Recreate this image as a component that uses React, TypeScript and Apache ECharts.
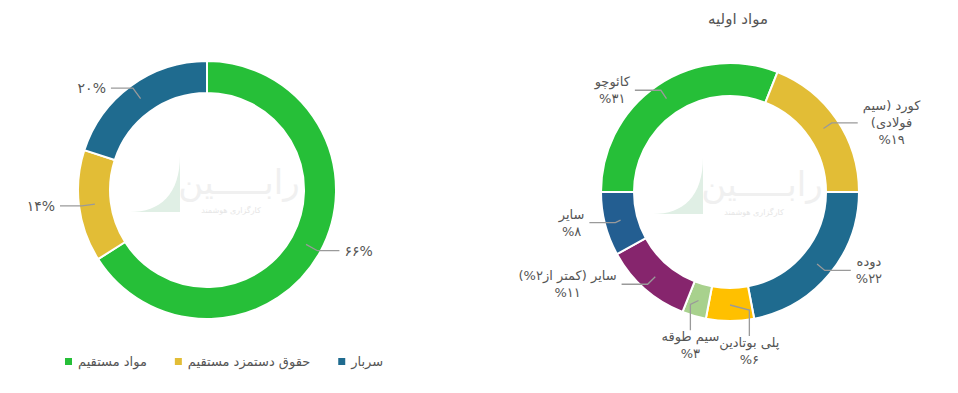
import React, { useEffect, useRef } from 'react';
import * as echarts from 'echarts';

const costNames = ['مواد مستقیم', 'حقوق دستمزد مستقیم', 'سربار'];
const costValues = [66, 14, 20];
const costColors = ['#26bf38', '#e2bd36', '#1f6b8f'];

const chartTitle = 'مواد اولیه';
const materialNames = ['کائوچو', 'کورد (سیم فولادی)', 'دوده', 'پلی بوتادین', 'سیم طوقه', 'سایر (کمتر از۲%)', 'سایر'];
const materialLabelLines = [['کائوچو'], ['کورد (سیم', 'فولادی)'], ['دوده'], ['پلی بوتادین'], ['سیم طوقه'], ['سایر (کمتر از۲%)'], ['سایر']];
const materialValues = [31, 19, 22, 6, 3, 11, 8];
const materialColors = ['#26bf38', '#e2bd36', '#1f6b8f', '#ffc000', '#a8d18d', '#86256d', '#235e91'];

const watermarkName = 'رابـــــین';
const watermarkSub = 'کارگزاری هوشمند';

const FONT = "'DejaVu Sans', sans-serif";
const RLM = '\u200F';
const toFa = (s: any) => String(s).replace(/\d/g, (d) => '۰۱۲۳۴۵۶۷۸۹'[+d]);
// right-to-left line: brackets and digits resolve as in an RTL paragraph
const rtl = (s: string) => RLM + s + RLM;

let registered = false;

export default function App() {
  const ref = useRef<HTMLDivElement>(null);
  useEffect(() => {
    document.body.style.margin = '0';
    if (!registered) {
      echarts.graphic.registerShape(
        'rabinLogo',
        echarts.graphic.extendPath('M50 0 L50 57 L0 57 C30 57 50 40 50 0 Z', {}) as any
      );
      registered = true;
    }
    const chart = echarts.init(ref.current!, undefined, { renderer: 'svg' });

    const lineStyle = { color: '#9a9a9a', width: 1.3 };

    const watermark = (cx: number, cy: number) => [
      { type: 'rabinLogo', x: cx - 77, y: cy - 35, z: -1, style: { fill: '#e0efe5' } },
      {
        type: 'text', x: cx + 32, y: cy - 8, z: -1,
        style: { text: watermarkName, fontSize: 34, fontFamily: FONT, fill: '#f0f0f0', align: 'center', verticalAlign: 'middle' },
      },
      {
        type: 'text', x: cx + 24, y: cy + 20, z: -1,
        style: { text: watermarkSub, fontSize: 8, fontFamily: FONT, fill: '#e6e6e6', align: 'center', verticalAlign: 'middle' },
      },
    ];

    const costData = costNames.map((n, i) => ({ name: n, value: costValues[i], itemStyle: { color: costColors[i] } }));
    const matData = materialNames.map((n, i) => ({ name: n, value: materialValues[i], itemStyle: { color: materialColors[i] } }));

    const matCenter = [730, 192];
    const matTotal = materialValues.reduce((a, b) => a + b, 0);
    const matBefore = materialValues.map((_, i) => materialValues.slice(0, i).reduce((a, b) => a + b, 0));

    chart.setOption({
      animation: false,
      title: {
        text: chartTitle,
        left: 733,
        top: 6,
        textAlign: 'center',
        textStyle: { fontFamily: FONT, fontSize: 15, fontWeight: 'normal', color: '#555' },
      },
      legend: {
        data: costNames,
        left: 58,
        top: 350,
        icon: 'rect',
        itemWidth: 9,
        itemHeight: 9,
        itemGap: 26,
        textStyle: { fontFamily: FONT, fontSize: 13, color: '#555' },
      },
      graphic: [...watermark(207, 190), ...watermark(matCenter[0], matCenter[1])],
      series: [
        {
          type: 'pie',
          name: 'cost',
          center: [207, 190],
          radius: [97, 129],
          startAngle: 90,
          clockwise: true,
          silent: true,
          label: { show: false },
          labelLine: { show: false },
          itemStyle: { borderColor: '#fff', borderWidth: 2 },
          data: costData,
        },
        {
          type: 'pie',
          name: 'costLabels',
          center: [207, 190],
          radius: [0, 113],
          startAngle: 90,
          clockwise: true,
          silent: true,
          z: 5,
          itemStyle: { color: 'rgba(0,0,0,0)', borderWidth: 0 },
          label: {
            show: true,
            position: 'outside',
            formatter: (p: any) => toFa(p.value) + '%',
            fontFamily: FONT,
            fontSize: 14,
            color: '#555',
          },
          labelLine: { show: true, length: 13, length2: 22, lineStyle },
          data: costNames.map((n, i) => ({ name: n, value: costValues[i], itemStyle: { color: 'rgba(0,0,0,0)' } })),
        },
        {
          type: 'pie',
          name: 'material',
          center: matCenter,
          radius: [96, 129],
          startAngle: 180,
          clockwise: true,
          silent: true,
          label: { show: false },
          labelLine: { show: false },
          itemStyle: { borderColor: '#fff', borderWidth: 2 },
          data: matData,
        },
        {
          type: 'pie',
          name: 'materialLabels',
          center: matCenter,
          radius: [0, 113],
          startAngle: 180,
          clockwise: true,
          silent: true,
          z: 5,
          itemStyle: { color: 'rgba(0,0,0,0)', borderWidth: 0 },
          label: {
            show: true,
            position: 'outside',
            formatter: (p: any) => {
              const lines = materialLabelLines[p.dataIndex].map((l) => '{a|' + rtl(l) + '}');
              lines.push('{a|%' + toFa(p.value) + '}');
              return lines.join('\n');
            },
            rich: { a: { align: 'center', fontFamily: FONT, fontSize: 13, color: '#555', lineHeight: 17 } },
          },
          labelLine: { show: true, length: 10, length2: 26, lineStyle },
          labelLayout: (p: any) => {
            const i = p.dataIndex;
            const mid = ((180 - (360 * (matBefore[i] + materialValues[i] / 2)) / matTotal) * Math.PI) / 180;
            if (Math.abs(Math.cos(mid)) > 0.35) return {};
            return {
              x: matCenter[0] + 142 * Math.cos(mid),
              y: matCenter[1] - 142 * Math.sin(mid),
              align: 'center',
              verticalAlign: 'top',
              moveOverlap: 'shiftX',
            };
          },
          data: materialNames.map((n, i) => ({ name: n, value: materialValues[i], itemStyle: { color: 'rgba(0,0,0,0)' } })),
        },
      ],
    } as any);
    return () => chart.dispose();
  }, []);
  return <div ref={ref} style={{ width: 958, height: 393 }} />;
}
